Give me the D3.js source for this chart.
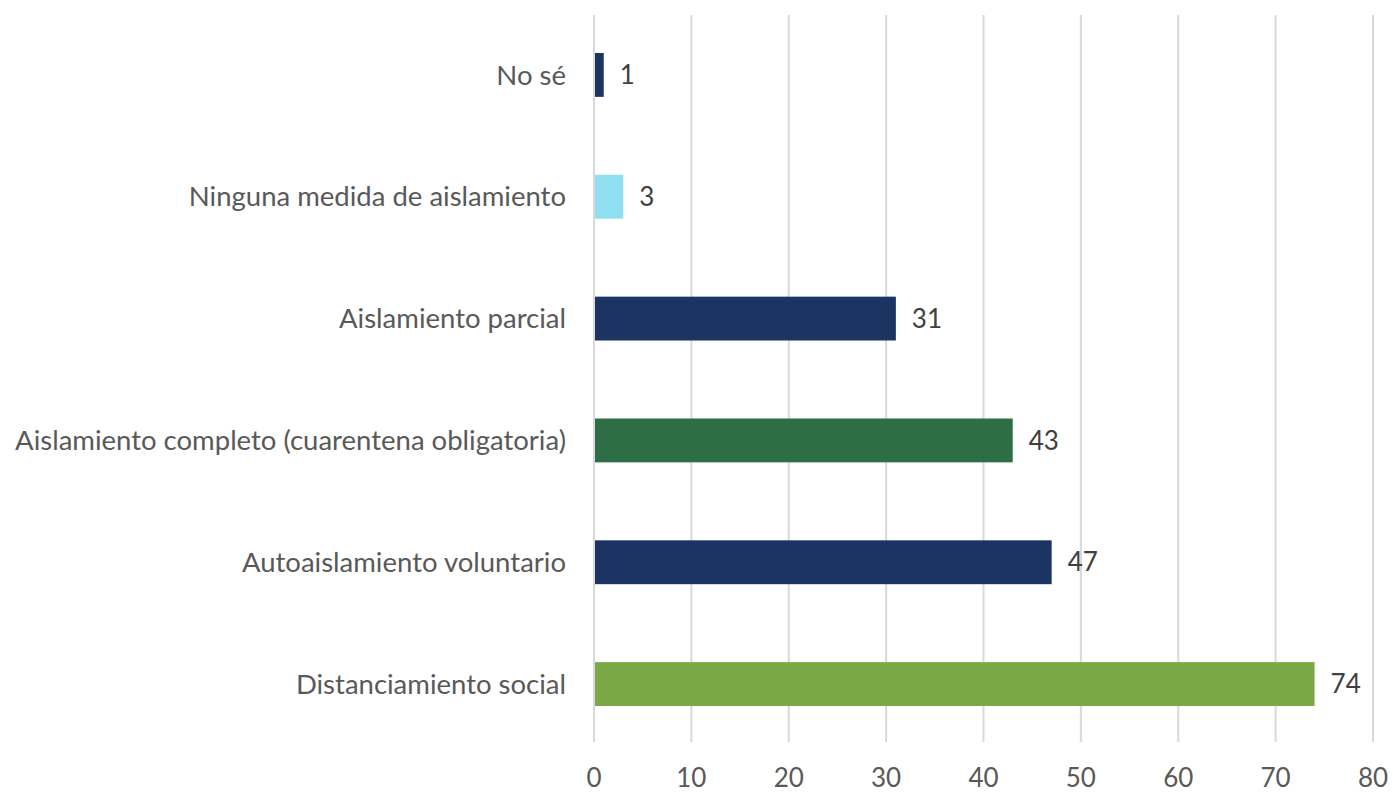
<!DOCTYPE html>
<html>
<head>
<meta charset="utf-8">
<script src="https://cdn.jsdelivr.net/npm/d3@7"></script>
<style>
  body { margin: 0; background: #fff; }
  text { font-family: Lato, "Open Sans", sans-serif; }
</style>
</head>
<body>
<div id="chart"></div>
<script>
'use strict';

// Data
const categories = [
    'No sé',
    'Ninguna medida de aislamiento',
    'Aislamiento parcial',
    'Aislamiento completo (cuarentena obligatoria)',
    'Autoaislamiento voluntario',
    'Distanciamiento social'
];
const values = [1, 3, 31, 43, 47, 74];
const barColors = ['#1c3461', '#8fdff0', '#1c3461', '#2e6e46', '#1c3461', '#7aa843'];
const xTicks = [0, 10, 20, 30, 40, 50, 60, 70, 80];

// Config
const w = 1393;
const h = 792;
const margin = {top: 14, right: 20, bottom: 47, left: 594};

const svg = d3.select('#chart')
    .append('svg')
    .attr('width', w)
    .attr('height', h);

// Scales
const xScale = d3.scaleLinear()
    .domain([0, 80])
    .range([margin.left, 1373]);

const yScale = d3.scaleBand()
    .domain(categories)
    .range([margin.top, h - margin.bottom])
    .paddingInner(0.64)
    .paddingOuter(0.32);

// Gridlines
svg.append('g')
    .selectAll('line')
    .data(xTicks)
    .join('line')
    .attr('x1', d => xScale(d))
    .attr('x2', d => xScale(d))
    .attr('y1', 15)
    .attr('y2', 742)
    .attr('stroke', '#d9d9d9')
    .attr('stroke-width', 2);

// Bars
svg.append('g')
    .selectAll('rect')
    .data(values)
    .join('rect')
    .attr('x', xScale(0) + 1)
    .attr('y', (d, i) => yScale(categories[i]))
    .attr('width', d => xScale(d) - xScale(0) - 1)
    .attr('height', yScale.bandwidth())
    .attr('fill', (d, i) => barColors[i]);

// Value labels
svg.append('g')
    .selectAll('text')
    .data(values)
    .join('text')
    .attr('x', d => xScale(d) + 16)
    .attr('y', (d, i) => yScale(categories[i]) + yScale.bandwidth() / 2)
    .attr('dy', '0.35em')
    .attr('font-size', 26)
    .attr('fill', '#404040')
    .text(d => d);

// Category labels
svg.append('g')
    .selectAll('text')
    .data(categories)
    .join('text')
    .attr('x', 566)
    .attr('y', d => yScale(d) + yScale.bandwidth() / 2)
    .attr('dy', '0.35em')
    .attr('text-anchor', 'end')
    .attr('font-size', 27.5)
    .attr('fill', '#595959')
    .text(d => d);

// X tick labels
svg.append('g')
    .selectAll('text')
    .data(xTicks)
    .join('text')
    .attr('x', d => xScale(d))
    .attr('y', 778)
    .attr('dy', '0.35em')
    .attr('text-anchor', 'middle')
    .attr('font-size', 26)
    .attr('fill', '#595959')
    .text(d => d);
</script>
</body>
</html>
